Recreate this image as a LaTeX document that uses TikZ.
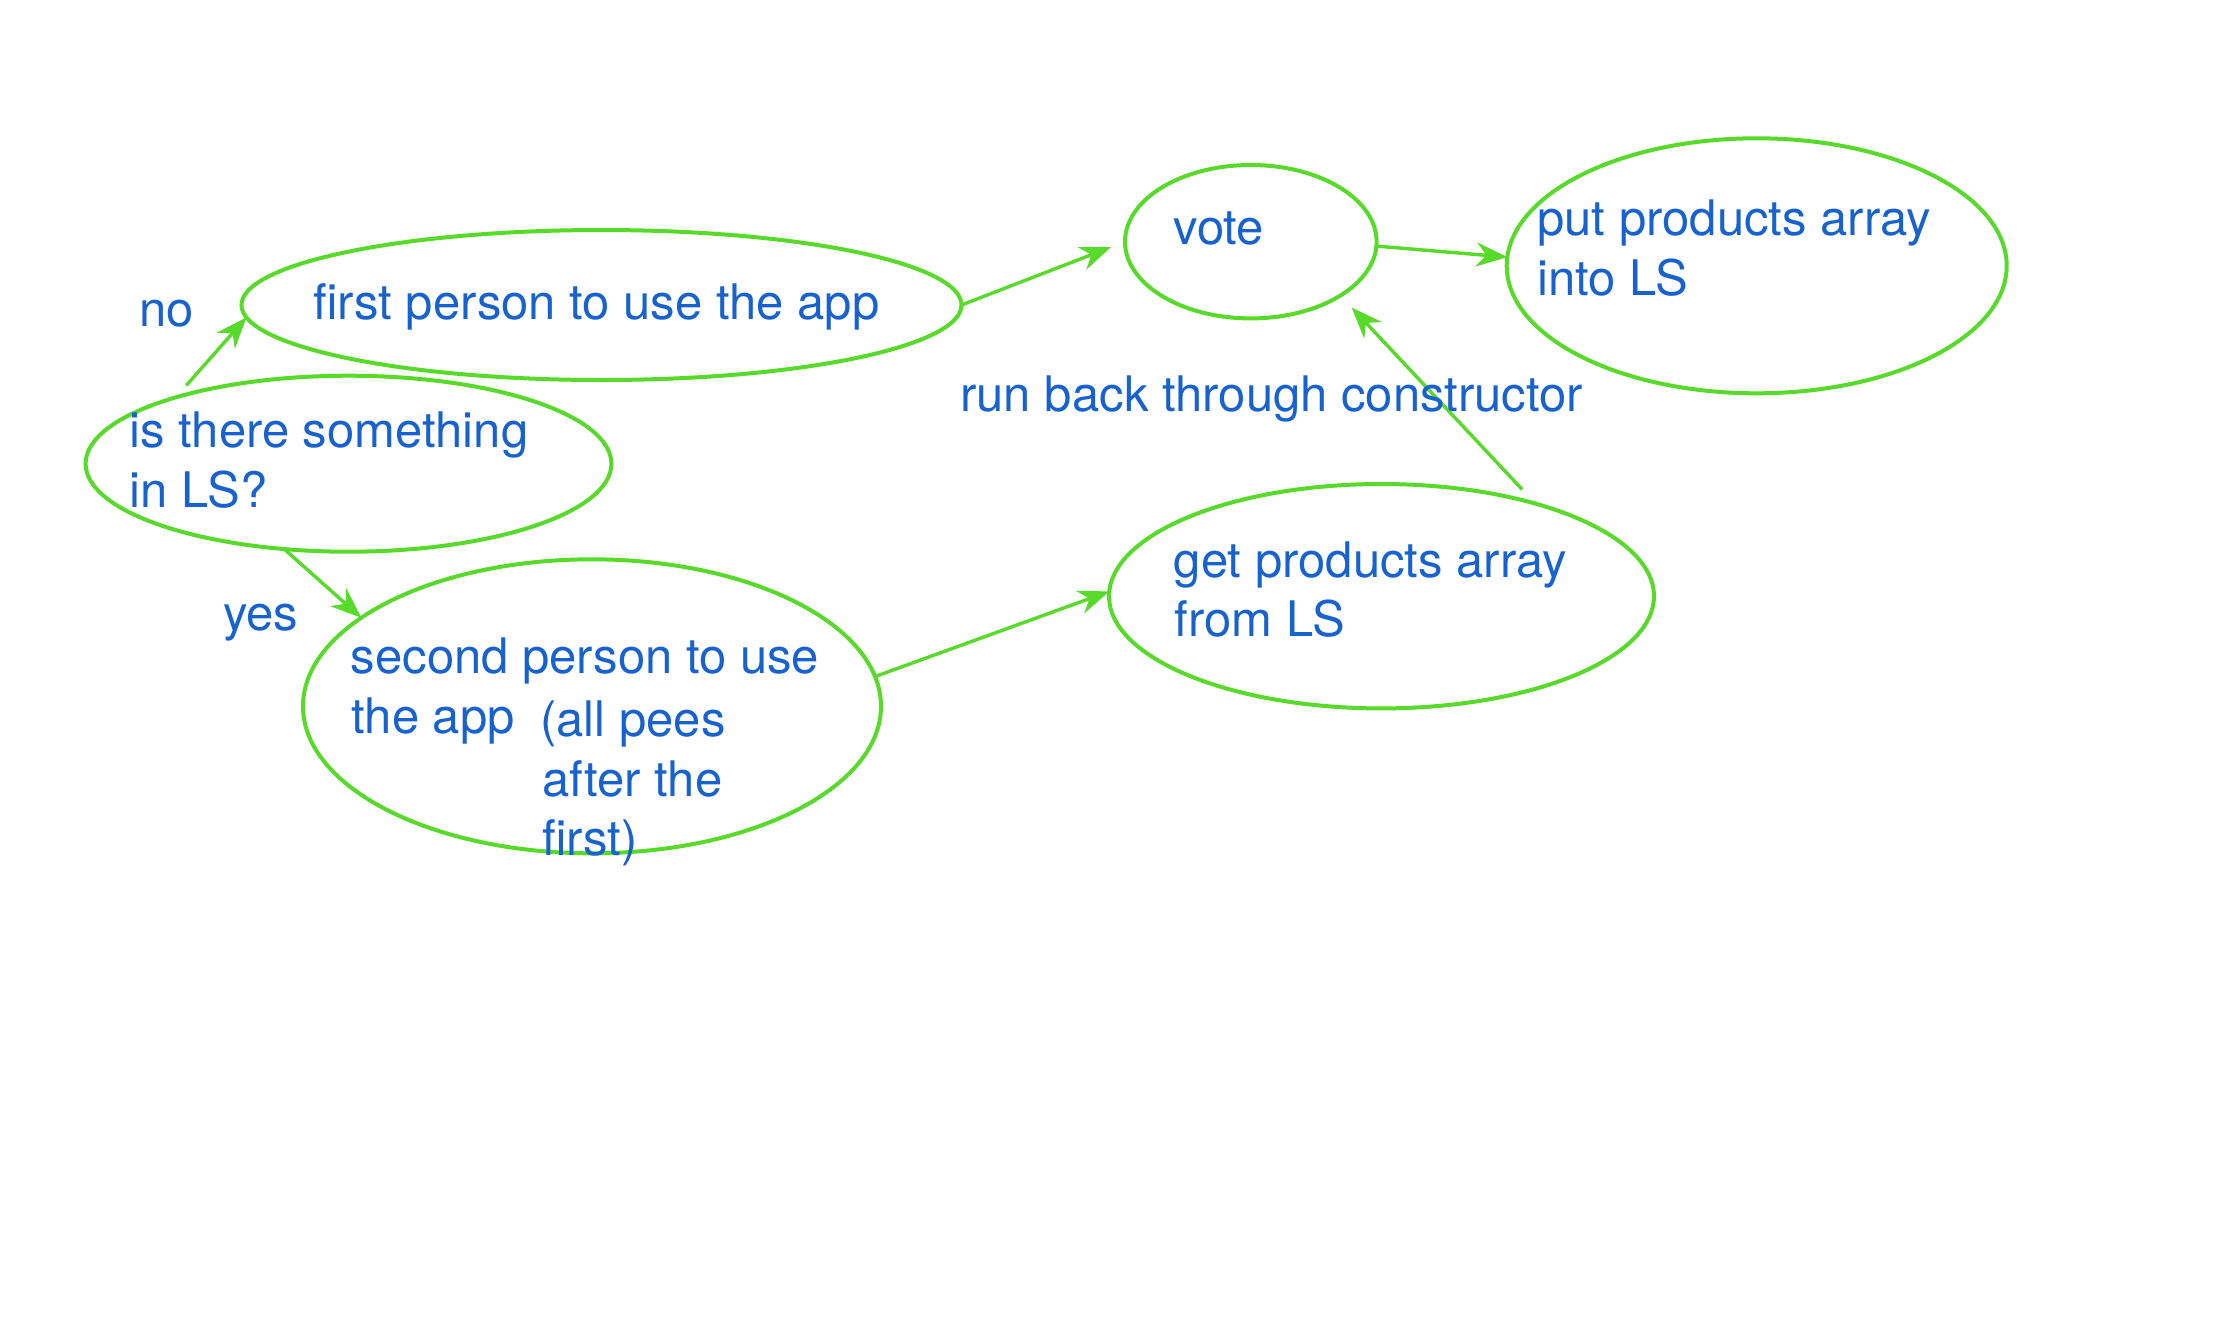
\documentclass[tikz,border=0pt]{standalone}
\usepackage{fontspec}
\setmainfont{TeX Gyre Heros}
\usetikzlibrary{arrows.meta,shapes.geometric}
\definecolor{lgreen}{RGB}{88,218,42}
\definecolor{tblue}{RGB}{24,98,208}
\begin{document}
\begin{tikzpicture}[x=0.5pt,y=-0.5pt,
  bub/.style={draw=lgreen,line width=2pt,ellipse,inner sep=0pt,outer sep=0pt},
  lbl/.style={text=tblue,font=\fontsize{24.5pt}{30pt}\selectfont,inner sep=0pt,anchor=base west},
  arr/.style={draw=lgreen,line width=1.7pt,-{Stealth[length=15.5pt,width=12pt,inset=5pt]}}]
\fill[white] (0,0) rectangle (2216,1330);
\useasboundingbox (0,0) rectangle (2216,1330);
% bubbles
\node[bub,minimum width=262.9pt,minimum height=88pt] (ls) at (348.5,463.7) {};
\node[bub,minimum width=360pt,minimum height=75pt] (first) at (601.5,305) {};
\node[bub,minimum width=125.8pt,minimum height=76.7pt] (vote) at (1250.8,241.7) {};
\node[bub,minimum width=250pt,minimum height=127.5pt] (put) at (1756.7,265.8) {};
\node[bub,minimum width=289pt,minimum height=147pt] (second) at (592,706.3) {};
\node[bub,minimum width=272.5pt,minimum height=112.2pt] (get) at (1381.5,596.2) {};
% connectors
\draw[arr,shorten <=8pt] (ls.159.1) -- (first.182);
\draw[arr] (ls.233.4) -- (second.159.3);
\draw[arr,shorten >=7.5pt] (first.0.8) -- (vote.180.4);
\draw[arr] (vote.358) -- (put.178.3);
\draw[arr] (second.6.8) -- (get.179.6);
\draw[arr,shorten <=9.75pt,shorten >=8.25pt] (get.31) -- (vote.329.9);
% labels
\node[lbl] (tno) at (139,326.7) {no};
\node[lbl] (tls1) at (129,447.3) {is there something};
\node[lbl] (tls2) at (129,507.3) {in LS?};
\node[lbl] (tfirst) at (313,319) {first person to use the app};
\node[lbl] (tyes) at (223,630) {yes};
\node[lbl] (tsec1) at (350.5,673.3) {second person to use};
\node[lbl] (tsec2) at (351,733.3) {the app};
\node[lbl] (tall1) at (540,736.7) {(all pees};
\node[lbl] (tall2) at (542,796.7) {after the};
\node[lbl] (tall3) at (542,855) {first)};
\node[lbl] (trun) at (960,411.7) {run back through constructor};
\node[lbl] (tget1) at (1173.5,577.3) {get products array};
\node[lbl] (tget2) at (1174.5,636.7) {from LS};
\node[lbl] (tvote) at (1173,244) {vote};
\node[lbl] (tput1) at (1537,235) {put products array};
\node[lbl] (tput2) at (1537,295) {into LS};
\end{tikzpicture}
\end{document}
